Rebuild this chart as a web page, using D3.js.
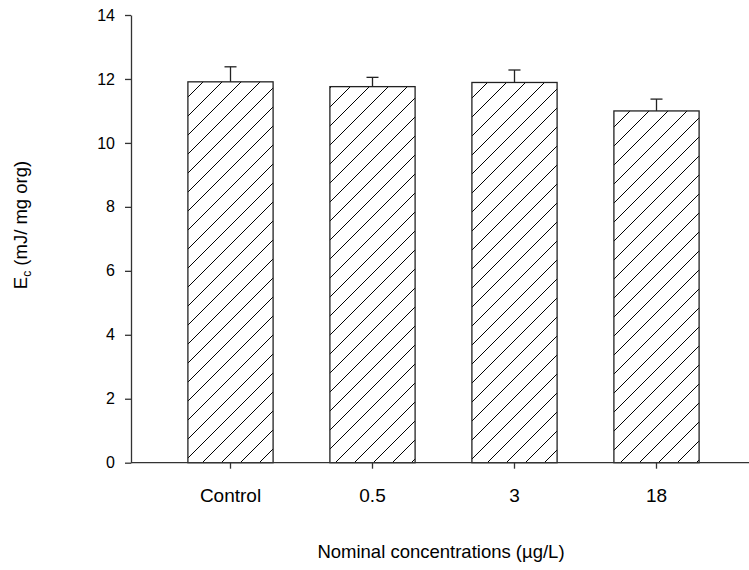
<!DOCTYPE html>
<html>
<head>
<meta charset="utf-8">
<script src="https://cdn.jsdelivr.net/npm/d3@7"></script>
<style>
  body{margin:0;background:#fff;}
  text{font-family:"Liberation Sans",Arial,sans-serif;fill:#000;}
</style>
</head>
<body>
<svg id="chart"></svg>
<script>
// data
const categories = ['Control','0.5','3','18'];
const means = [11.91, 11.76, 11.89, 11.0];
const errors = [0.47, 0.29, 0.39, 0.37];
const yTicks = [0,2,4,6,8,10,12,14];

let width = 749, height = 570;
const svg = d3.select('#chart').attr('width',width).attr('height',height);

const x = d3.scaleBand()
  .domain(categories)
  .range([159.5,727.5])
  .paddingInner(0.4)
  .paddingOuter(0.2);
const y = d3.scaleLinear().domain([0,14]).range([462.7,15]);

// hatch pattern
const pat = svg.append('defs').append('pattern')
  .attr('id','hatch')
  .attr('patternUnits','userSpaceOnUse')
  .attr('width',19).attr('height',19);
pat.append('path')
  .attr('d','M0,19 L19,0 M-5,5 L5,-5 M14,24 L24,14')
  .attr('stroke','#000').attr('stroke-width',1);

// bars
svg.selectAll('.bar')
  .data(categories)
  .join('rect')
    .classed('bar',true)
    .attr('x',d=>x(d))
    .attr('y',(d,i)=>y(means[i]))
    .attr('width',x.bandwidth())
    .attr('height',(d,i)=>y(0)-y(means[i]))
    .attr('fill','url(#hatch)')
    .attr('stroke','#222')
    .attr('stroke-width',1.3);

// error bars (upper only)
const eb = svg.selectAll('.err')
  .data(categories)
  .join('g').classed('err',true)
  .attr('transform',d=>`translate(${x(d)+x.bandwidth()/2},0)`);
eb.append('line')
  .attr('y1',(d,i)=>y(means[i])).attr('y2',(d,i)=>y(means[i]+errors[i]))
  .attr('stroke','#222').attr('stroke-width',1.3);
eb.append('line')
  .attr('x1',-6).attr('x2',6)
  .attr('y1',(d,i)=>y(means[i]+errors[i])).attr('y2',(d,i)=>y(means[i]+errors[i]))
  .attr('stroke','#222').attr('stroke-width',1.3);

// y axis
const yAxis = svg.append('g')
  .attr('transform','translate(131,0)')
  .call(d3.axisLeft(y).tickValues(yTicks).tickSize(6).tickPadding(10).tickSizeOuter(0));
yAxis.select('.domain').attr('stroke','#333').attr('stroke-width',1.3);
yAxis.selectAll('.tick line').attr('stroke','#333').attr('stroke-width',1.3);
yAxis.selectAll('.tick text').style('font-size','16px').attr('fill','#000');

// x axis
const xAxis = svg.append('g')
  .attr('transform',`translate(0,${y(0)})`)
  .call(d3.axisBottom(x).tickSize(6).tickPadding(20).tickSizeOuter(0));
xAxis.select('.domain').attr('d','M131,0H749').attr('stroke','#333').attr('stroke-width',1.3);
xAxis.selectAll('.tick line').attr('stroke','#333').attr('stroke-width',1.3);
xAxis.selectAll('.tick text').style('font-size','19px').attr('fill','#000');

// titles
svg.append('text')
  .attr('x',441).attr('y',558)
  .attr('text-anchor','middle')
  .style('font-size','18.5px')
  .text('Nominal concentrations (µg/L)');

const yt = svg.append('text')
  .attr('transform','translate(27,225) rotate(-90)')
  .attr('text-anchor','middle')
  .style('font-size','18.5px');
yt.append('tspan').text('E');
yt.append('tspan').attr('dy',4).style('font-size','12px').text('c');
yt.append('tspan').attr('dy',-4).text(' (mJ/ mg org)');
</script>
</body>
</html>
